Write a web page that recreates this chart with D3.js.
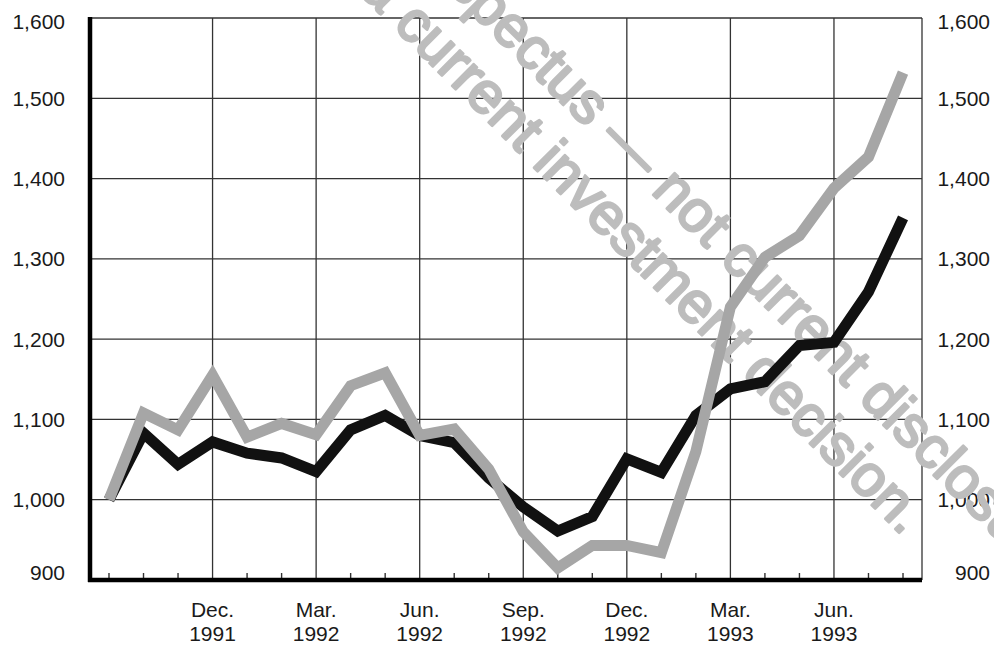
<!DOCTYPE html>
<html>
<head>
<meta charset="utf-8">
<script src="https://cdn.jsdelivr.net/npm/d3@7"></script>
<style>
  html, body { margin: 0; padding: 0; background: #fff; }
  svg { display: block; font-family: "Liberation Sans", Arial, Helvetica, sans-serif; }
</style>
</head>
<body>
<svg id="chart" width="994" height="647"></svg>
<script>
//data
const months = [
  'Sep 1991', 'Oct 1991', 'Nov 1991', 'Dec 1991',
  'Jan 1992', 'Feb 1992', 'Mar 1992', 'Apr 1992', 'May 1992', 'Jun 1992',
  'Jul 1992', 'Aug 1992', 'Sep 1992', 'Oct 1992', 'Nov 1992', 'Dec 1992',
  'Jan 1993', 'Feb 1993', 'Mar 1993', 'Apr 1993', 'May 1993', 'Jun 1993',
  'Jul 1993', 'Aug 1993'
];
const blackValues = [
  1000, 1083, 1044, 1072, 1058, 1052, 1035, 1087, 1105, 1080,
  1071, 1027, 991, 961, 979, 1051, 1034, 1105, 1138, 1147,
  1192, 1196, 1259, 1351
];
const grayValues = [
  1000, 1108, 1087, 1155, 1078, 1095, 1081, 1142, 1158, 1080,
  1088, 1038, 960, 915, 943, 943, 934, 1060, 1240, 1302,
  1329, 1388, 1427, 1532
];
const quarterLabels = [
  ['Dec.', '1991'], ['Mar.', '1992'], ['Jun.', '1992'], ['Sep.', '1992'],
  ['Dec.', '1992'], ['Mar.', '1993'], ['Jun.', '1993']
];
const quarterMonths = ['Dec 1991', 'Mar 1992', 'Jun 1992', 'Sep 1992', 'Dec 1992', 'Mar 1993', 'Jun 1993'];
const watermarkLines = [
  'Historical prospectus \u2014 not current disclosure.',
  'not a current investment decision.'
];

//layout
const plotLeft = 90, plotRight = 922, plotTop = 18, plotBottom = 580;

const svg = d3.select('#chart');

const x = d3.scaleLinear()
  .domain([-0.55, months.length - 0.45])
  .range([plotLeft, plotRight]);

const y = d3.scaleLinear()
  .domain([900, 1600])
  .range([plotBottom, plotTop]);

const fmt = d3.format(',');
const yTicks = y.ticks(7);

// grid
const grid = svg.append('g').attr('stroke', '#333').attr('stroke-width', 1.3);

grid.selectAll('.hgrid')
  .data(yTicks.filter(d => d > 900))
  .join('line')
  .attr('x1', plotLeft).attr('x2', plotRight)
  .attr('y1', d => y(d)).attr('y2', d => y(d));

grid.selectAll('.vgrid')
  .data(quarterMonths)
  .join('line')
  .attr('x1', d => x(months.indexOf(d))).attr('x2', d => x(months.indexOf(d)))
  .attr('y1', plotTop).attr('y2', plotBottom);

grid.append('line')
  .attr('x1', plotRight).attr('x2', plotRight)
  .attr('y1', plotTop).attr('y2', plotBottom);

// month ticks
svg.append('g')
  .selectAll('line')
  .data(months.filter(m => !quarterMonths.includes(m)))
  .join('line')
  .attr('x1', d => x(months.indexOf(d))).attr('x2', d => x(months.indexOf(d)))
  .attr('y1', plotBottom - 7).attr('y2', plotBottom)
  .attr('stroke', '#333')
  .attr('stroke-width', 1.4);

// y labels, both sides
const labelNudge = v => v === 900 ? -8 : (v === 1600 ? 3 : 0);

[65, 990].forEach(lx => {
  svg.append('g')
    .selectAll('text')
    .data(yTicks)
    .join('text')
    .attr('x', lx)
    .attr('y', d => y(d) + labelNudge(d))
    .attr('dy', '0.36em')
    .attr('text-anchor', 'end')
    .attr('font-size', 21)
    .attr('fill', '#1a1a1a')
    .text(d => fmt(d));
});

// x labels
const xl = svg.append('g')
  .selectAll('text')
  .data(quarterLabels)
  .join('text')
  .attr('text-anchor', 'middle')
  .attr('font-size', 21)
  .attr('fill', '#1a1a1a');

xl.append('tspan')
  .attr('x', (d, i) => x(months.indexOf(quarterMonths[i])))
  .attr('y', 617)
  .text(d => d[0]);

xl.append('tspan')
  .attr('x', (d, i) => x(months.indexOf(quarterMonths[i])))
  .attr('y', 641)
  .text(d => d[1]);

// watermark
const wm = svg.append('g')
  .attr('transform', 'rotate(45)')
  .attr('font-size', 58)
  .attr('fill', '#bdbdbd')
  .attr('stroke', '#bdbdbd')
  .attr('stroke-width', 2.6)
  .attr('stroke-linejoin', 'round');

// anchor word centre (u along text, v across) for each line
const anchors = [
  { word: 'not', u: 636, v: -324 },
  { word: 'current', u: 386, v: -259 }
];

watermarkLines.forEach((line, i) => {
  const a = anchors[i];
  const t = wm.append('text').attr('x', 0).attr('y', a.v).text(line);
  const node = t.node();
  const idx = line.indexOf(a.word);
  const pre = idx > 0 ? node.getSubStringLength(0, idx) : 0;
  const w = node.getSubStringLength(idx, a.word.length);
  t.attr('x', a.u - pre - w / 2);
});

// lines
const lineGen = d3.line()
  .x((d, i) => x(i))
  .y(d => y(d));

svg.append('path')
  .datum(blackValues)
  .attr('d', lineGen)
  .attr('fill', 'none')
  .attr('stroke', '#111')
  .attr('stroke-width', 11)
  .attr('stroke-linejoin', 'miter')
  .attr('stroke-miterlimit', 6);

svg.append('path')
  .datum(grayValues)
  .attr('d', lineGen)
  .attr('fill', 'none')
  .attr('stroke', '#a6a6a6')
  .attr('stroke-width', 11)
  .attr('stroke-linejoin', 'miter')
  .attr('stroke-miterlimit', 6);

// axes (thick)
svg.append('line')
  .attr('x1', plotLeft).attr('x2', plotLeft)
  .attr('y1', plotTop - 1).attr('y2', plotBottom + 2)
  .attr('stroke', '#000').attr('stroke-width', 4.5);

svg.append('line')
  .attr('x1', plotLeft - 2).attr('x2', plotRight)
  .attr('y1', plotBottom).attr('y2', plotBottom)
  .attr('stroke', '#000').attr('stroke-width', 4.5);
</script>
</body>
</html>
